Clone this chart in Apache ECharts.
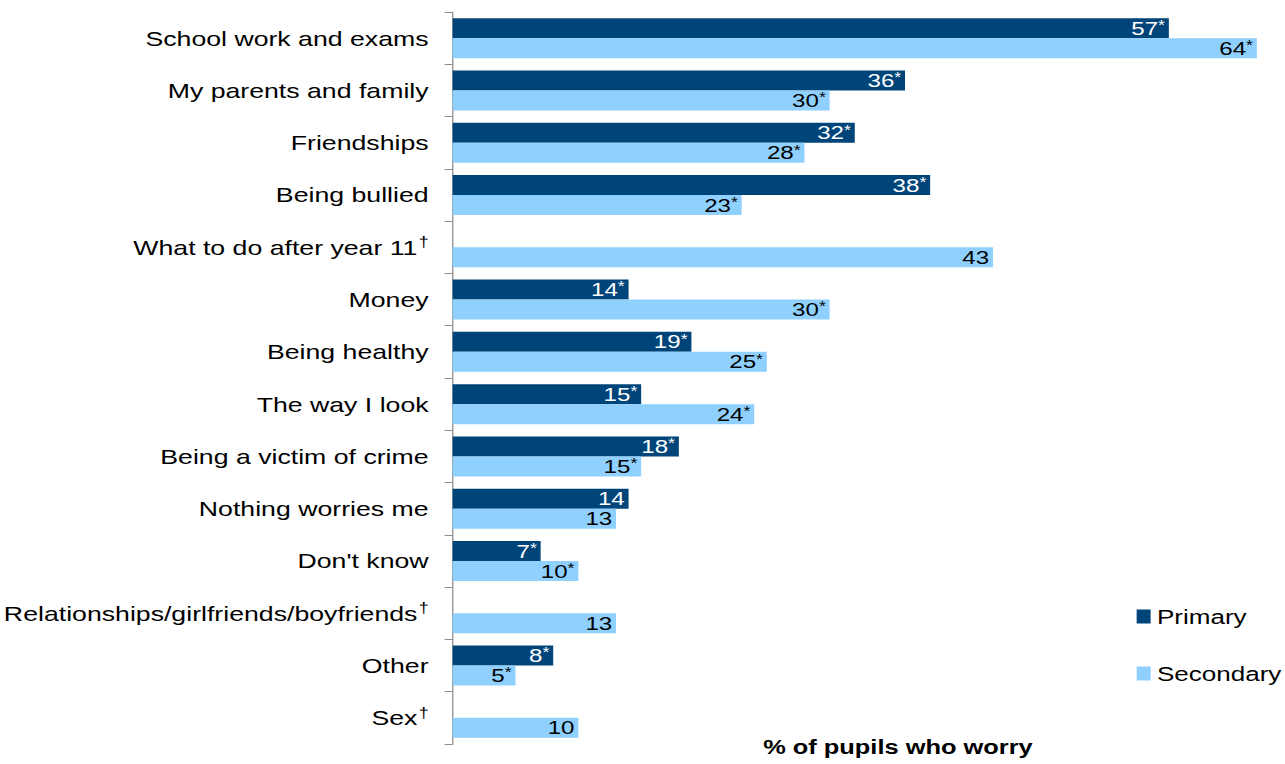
<!DOCTYPE html>
<html>
<head>
<meta charset="utf-8">
<script src="https://cdn.jsdelivr.net/npm/echarts@6/dist/echarts.min.js"></script>
<style>
html,body{margin:0;padding:0;background:#fff;overflow:hidden;}
#wrap{width:1285px;height:764px;overflow:hidden;}
#chart{width:1012px;height:764px;transform:scaleX(1.27);transform-origin:0 0;}
</style>
</head>
<body>
<div id="wrap"><div id="chart"></div></div>
<script>
const categories = ["School work and exams","My parents and family","Friendships","Being bullied","What to do after year 11","Money","Being healthy","The way I look","Being a victim of crime","Nothing worries me","Don't know","Relationships/girlfriends/boyfriends","Other","Sex"];
const daggerCats = [false,false,false,false,true,false,false,false,false,false,false,true,false,true];
const primary = [57,36,32,38,null,14,19,15,18,14,7,null,8,null];
const secondary = [64,30,28,23,43,30,25,24,15,13,10,13,5,10];
const primarySig = [true,true,true,true,false,true,true,true,true,false,true,false,true,false];
const secondarySig = [true,true,true,true,false,true,true,true,true,false,true,false,true,false];
const seriesNames = ["Primary","Secondary"];
const axisTitle = "% of pupils who worry";

const FONT = "Liberation Sans, Arial, sans-serif";
const chart = echarts.init(document.getElementById('chart'), null, {renderer:'svg'});

function lbl(sig, color){
  return {
    show:true, position:'insideRight', distance:3,
    formatter: p => p.value == null ? '' : (sig[p.dataIndex] ? '{v|' + p.value + '}{s|*}' : '{v|' + p.value + '}'),
    rich:{
      v:{fontFamily:FONT,fontSize:19,color:color},
      s:{fontFamily:FONT,fontSize:14,color:color,verticalAlign:'top',padding:[0,0,6,0]}
    }
  };
}

chart.setOption({
  animation:false,
  grid:{left:351,right:2.6,top:12,bottom:20,containLabel:false},
  legend:{
    orient:'vertical', left:895, top:606, padding:0, itemGap:36, itemWidth:11, itemHeight:14,
    icon:'rect',
    textStyle:{fontFamily:FONT,fontSize:20.5,color:'#000'},
    data:seriesNames
  },
  xAxis:{
    type:'value', min:0, max:66, show:false
  },
  yAxis:{
    type:'category', inverse:true, data:categories,
    axisLine:{show:true,lineStyle:{color:'#8c8c8c',width:1}},
    axisTick:{show:true,length:6.3,inside:false,alignWithLabel:false,lineStyle:{color:'#8c8c8c'}},
    axisLabel:{
      margin:19,
      formatter:(v,i)=> daggerCats[i] ? '{c|' + v + '}{d|†}' : '{c|' + v + '}',
      rich:{
        c:{fontFamily:FONT,fontSize:21,color:'#000'},
        d:{fontFamily:FONT,fontSize:14,color:'#000',verticalAlign:'top',padding:[0,0,10,1]}
      }
    }
  },
  graphic:[{
    type:'text', x:707, y:737,
    style:{text:axisTitle, font:'bold 20px ' + FONT, fill:'#000', textAlign:'center'}
  }],
  series:[
    {name:seriesNames[0], type:'bar', data:primary, barWidth:20, barGap:'0%',
     itemStyle:{color:'#00457A'}, label:lbl(primarySig,'#fff')},
    {name:seriesNames[1], type:'bar', data:secondary, barWidth:20, barGap:'0%',
     itemStyle:{color:'#8FD0FF'}, label:lbl(secondarySig,'#000')}
  ]
});
</script>
</body>
</html>
